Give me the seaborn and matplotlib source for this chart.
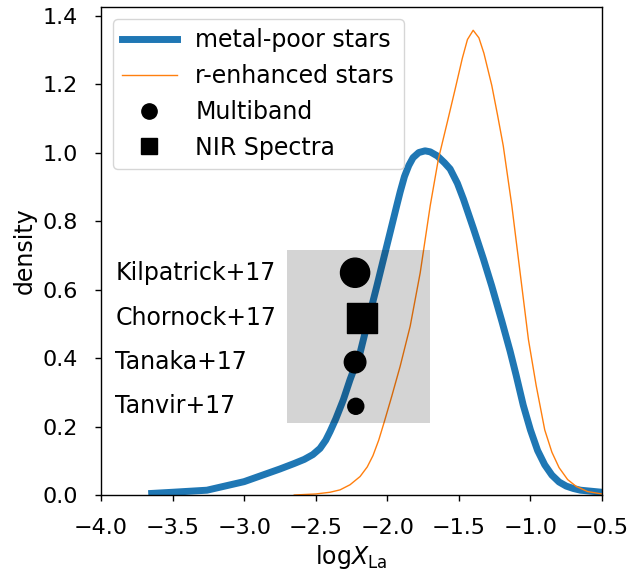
import matplotlib
matplotlib.use("Agg")
import matplotlib.pyplot as plt
from matplotlib.lines import Line2D
import pandas as pd
import seaborn as sns

# ---------------- data ----------------
# metal-poor stars density curve
mp_x = [-3.67, -3.5, -3.26, -3.0, -2.75, -2.65, -2.58, -2.52, -2.47, -2.43, -2.40,
        -2.36, -2.307, -2.26, -2.19, -2.132, -2.073, -2.027, -1.98, -1.934, -1.91,
        -1.88, -1.85, -1.82, -1.78, -1.736, -1.70, -1.65, -1.60, -1.561, -1.51,
        -1.468, -1.398, -1.329, -1.27, -1.20, -1.142, -1.10, -1.05, -1.00, -0.95,
        -0.90, -0.85, -0.80, -0.75, -0.70, -0.65, -0.5]
mp_y = [0.004, 0.008, 0.014, 0.039, 0.076, 0.092, 0.104, 0.118, 0.136, 0.160, 0.185,
        0.222, 0.278, 0.337, 0.415, 0.513, 0.610, 0.688, 0.767, 0.845, 0.885,
        0.930, 0.962, 0.985, 1.000, 1.005, 1.002, 0.990, 0.970, 0.952, 0.910,
        0.864, 0.778, 0.690, 0.610, 0.508, 0.420, 0.350, 0.262, 0.190, 0.130,
        0.088, 0.058, 0.038, 0.026, 0.019, 0.014, 0.008]

# r-enhanced stars density curve
re_x = [-2.65, -2.5, -2.4, -2.33, -2.26, -2.19, -2.14, -2.10, -2.06, -2.02, -1.969,
        -1.91, -1.84, -1.77, -1.70, -1.643, -1.58, -1.526, -1.476, -1.44, -1.40,
        -1.36, -1.325, -1.27, -1.23, -1.19, -1.13, -1.072, -1.014, -0.96, -0.90,
        -0.85, -0.80, -0.74, -0.68, -0.60, -0.5]
re_y = [0.000, 0.003, 0.008, 0.015, 0.030, 0.054, 0.082, 0.115, 0.160, 0.215, 0.288,
        0.376, 0.493, 0.649, 0.845, 0.981, 1.090, 1.185, 1.275, 1.330, 1.357,
        1.335, 1.290, 1.196, 1.110, 1.020, 0.845, 0.649, 0.454, 0.320, 0.190,
        0.125, 0.080, 0.045, 0.025, 0.010, 0.003]

# kilonova estimates
obs_labels = ["Kilpatrick+17", "Chornock+17", "Tanaka+17", "Tanvir+17"]
obs_x = [-2.225, -2.18, -2.225, -2.22]
obs_y = [0.649, 0.518, 0.388, 0.259]
obs_kind = ["Multiband", "NIR Spectra", "Multiband", "Multiband"]

# shaded range
range_x = [-2.7, -1.7]
range_y = [0.21, 0.715]

# axis ticks
x_ticks = [-4.0, -3.5, -3.0, -2.5, -2.0, -1.5, -1.0, -0.5]
y_ticks = [0.0, 0.2, 0.4, 0.6, 0.8, 1.0, 1.2, 1.4]

# ---------------- styling ----------------
marker_size_pt = [21.0, 21.0, 15.5, 11.5]   # visual marker sizes (points)
kind_marker = {"Multiband": "o", "NIR Spectra": "s"}
FS_TICK = 16
FS_TEXT = 17
BLUE = "#1f77b4"
ORANGE = "#ff7f0e"

plt.rcParams["font.family"] = ["DejaVu Sans"]
plt.rcParams["mathtext.fontset"] = "dejavusans"

fig = plt.figure(figsize=(6.32, 5.72), dpi=100)
ax = fig.add_axes([101 / 632, 1 - 495 / 572, 501 / 632, 488 / 572])

mp_df = pd.DataFrame({"x": mp_x, "y": mp_y})
re_df = pd.DataFrame({"x": re_x, "y": re_y})
sns.lineplot(data=mp_df, x="x", y="y", ax=ax, color=BLUE, linewidth=5,
             legend=False, sort=True, solid_capstyle="butt",
             solid_joinstyle="round")
sns.lineplot(data=re_df, x="x", y="y", ax=ax, color=ORANGE, linewidth=1,
             legend=False, sort=True, solid_joinstyle="round")

ax.fill_between(range_x, range_y[0], range_y[1], color="black", alpha=0.17,
                linewidth=0, zorder=3)

obs_df = pd.DataFrame({"x": obs_x, "y": obs_y, "kind": obs_kind,
                       "s": [m ** 2 for m in marker_size_pt]})
for kind, mk in kind_marker.items():
    sub = obs_df[obs_df["kind"] == kind]
    sns.scatterplot(x=sub["x"], y=sub["y"], ax=ax, marker=mk, s=sub["s"].tolist(),
                    color="black", edgecolor="black", linewidth=1, zorder=4,
                    legend=False)

for lab, yy in zip(obs_labels, obs_y):
    ax.text(-3.9, yy, lab, ha="left", va="center", fontsize=FS_TEXT)

ax.set_xlim(-4.0, -0.5)
ax.set_ylim(0, 1.425)
ax.set_xticks(x_ticks)
ax.set_yticks(y_ticks)
ax.set_xticklabels([f"{t:.1f}".replace("-", "\u2212") for t in x_ticks])
ax.set_yticklabels([f"{t:.1f}" for t in y_ticks])
ax.tick_params(labelsize=FS_TICK, direction="out", length=4.5, width=1, pad=12)
ax.set_xlabel(r"log$X_{\rm La}$", fontsize=FS_TEXT)
ax.set_ylabel("density", fontsize=FS_TEXT)
for sp in ax.spines.values():
    sp.set_linewidth(1.0)
    sp.set_color("black")

handles = [
    Line2D([], [], color=BLUE, lw=5),
    Line2D([], [], color=ORANGE, lw=1),
    Line2D([], [], color="black", marker="o", ls="none", markersize=11),
    Line2D([], [], color="black", marker="s", ls="none", markersize=11),
]
labels = ["metal-poor stars", "r-enhanced stars", "Multiband", "NIR Spectra"]
ax.legend(handles, labels, loc="upper left", fontsize=FS_TEXT, handlelength=2.3,
          labelspacing=0.5)

fig.savefig("out.png", dpi=100)
